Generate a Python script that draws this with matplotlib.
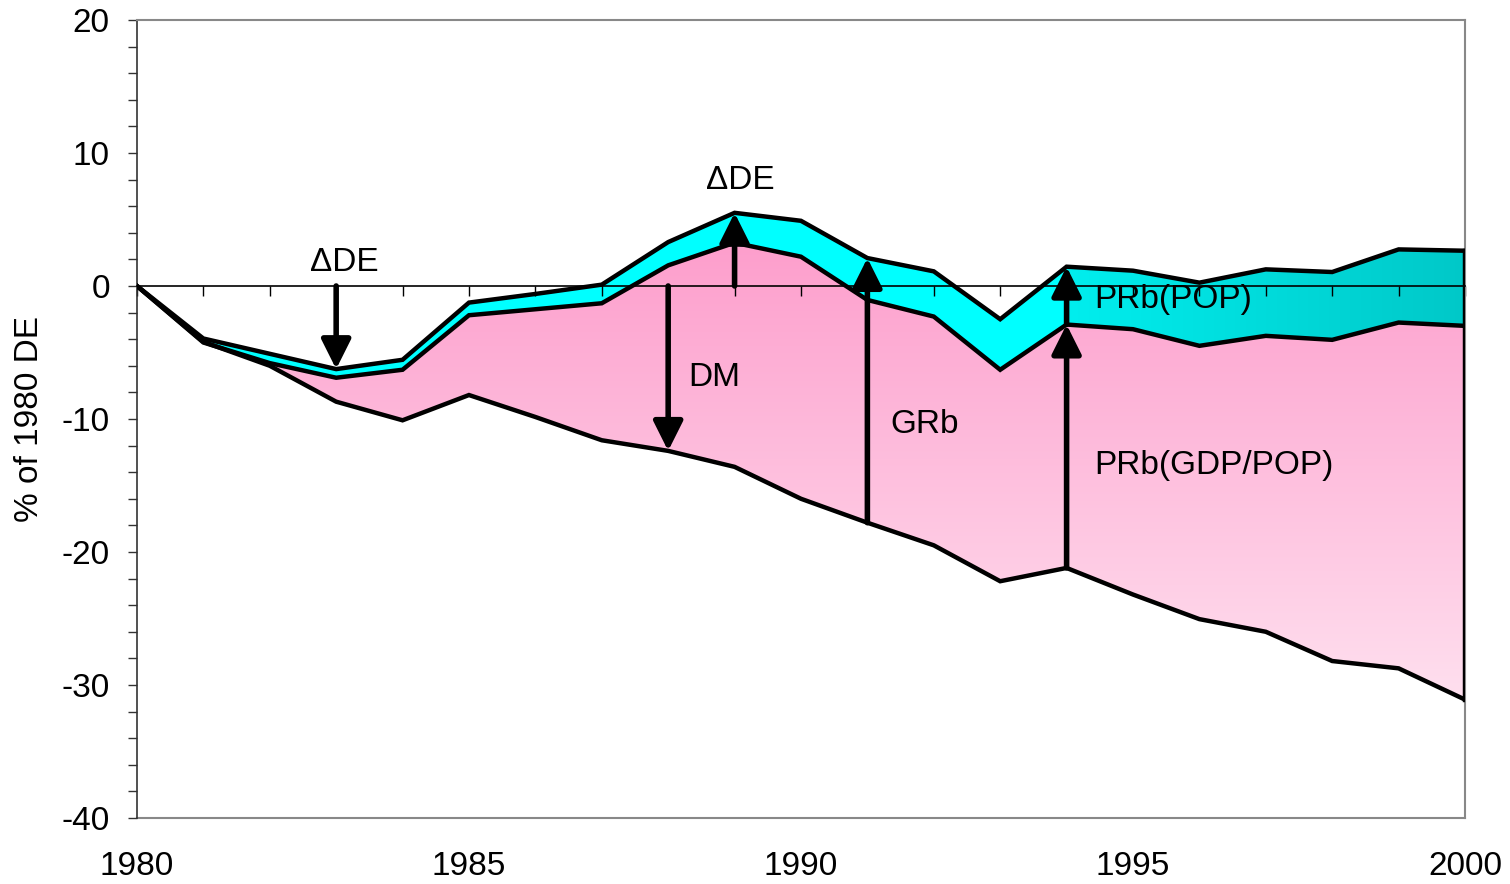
import numpy as np
import matplotlib
matplotlib.use('Agg')
import matplotlib.pyplot as plt
from matplotlib.patches import Polygon
from matplotlib.colors import LinearSegmentedColormap

plt.rcParams['font.family'] = ['Liberation Sans', 'DejaVu Sans']
plt.rcParams['axes.unicode_minus'] = False

# data (% of 1980 DE)
years = np.arange(1980, 2001)
de_line = [0, -3.95, -5.1, -6.25, -5.55, -1.25, -0.6, 0.1, 3.3, 5.5, 4.9,
           2.1, 1.1, -2.5, 1.45, 1.15, 0.25, 1.25, 1.05, 2.75, 2.65]
gdp_line = [0, -4.25, -5.8, -6.9, -6.3, -2.2, -1.75, -1.3, 1.55, 3.25, 2.2,
            -1.05, -2.3, -6.3, -2.9, -3.25, -4.5, -3.75, -4.05, -2.75, -3.0]
dm_line = [0, -4.2, -6.0, -8.7, -10.1, -8.2, -9.85, -11.6, -12.4, -13.6, -16.0,
           -17.8, -19.5, -22.2, -21.2, -23.2, -25.05, -26.0, -28.2, -28.75, -31.1]

de = np.array(de_line)
gdp = np.array(gdp_line)
dm = np.array(dm_line)

fig = plt.figure(figsize=(15.1, 8.84), dpi=100)
ax = fig.add_axes([0.0907, 0.0747, 0.8795, 0.9027])


def grad_fill(ax, x, y1, y2, c0, c1, extent, vertical=True):
    verts = np.concatenate([np.column_stack([x, y1]),
                            np.column_stack([x[::-1], y2[::-1]])])
    poly = Polygon(verts, closed=True, facecolor='none', edgecolor='none')
    ax.add_patch(poly)
    cmap = LinearSegmentedColormap.from_list('g', [c0, c1])
    g = np.linspace(0, 1, 256)
    g = g.reshape(-1, 1) if vertical else g.reshape(1, -1)
    im = ax.imshow(g, cmap=cmap, extent=extent, origin='lower',
                   aspect='auto', zorder=1, interpolation='bilinear')
    im.set_clip_path(poly)


# pink area between DM line and GDP line (vertical gradient)
grad_fill(ax, years, dm, gdp, '#ffe0ef', '#fd9aca', (1980, 2000, -31.5, 5.5))
# cyan area up to 1994
m = years <= 1994
ax.fill_between(years[m], gdp[m], de[m], color='#00ffff', lw=0, zorder=1)
# teal area 1994-2000 (horizontal gradient)
m2 = years >= 1994
grad_fill(ax, years[m2], gdp[m2], de[m2], '#00eeee', '#00c8c8',
          (1994, 2000, -6, 4), vertical=False)

for y in (de, gdp, dm):
    ax.plot(years, y, color='black', lw=3.2, zorder=3, solid_joinstyle='miter')
ax.plot([years[-1], years[-1]], [dm[-1], de[-1]], color='black', lw=3.2, zorder=3)


def arrow(x, y0, y1):
    ax.annotate('', xy=(x, y1), xytext=(x, y0),
                arrowprops=dict(arrowstyle='-|>,head_length=0.9,head_width=0.45',
                                lw=4, color='black', shrinkA=0, shrinkB=0,
                                mutation_scale=20), zorder=4)


i = lambda yr: yr - 1980
arrow(1983, 0, de[i(1983)])
arrow(1988, 0, dm[i(1988)])
arrow(1989, 0, de[i(1989)])
arrow(1991, dm[i(1991)], de[i(1991)])
arrow(1994, dm[i(1994)], gdp[i(1994)])
arrow(1994, gdp[i(1994)], de[i(1994)])

fs = 24
ax.text(1983.13, 1.8, '\u0394DE', fontsize=fs, ha='center', va='center', zorder=5)
ax.text(1989.08, 7.9, '\u0394DE', fontsize=fs, ha='center', va='center', zorder=5)
ax.text(1988.3, -6.85, 'DM', fontsize=fs, ha='left', va='center', zorder=5)
ax.text(1991.34, -10.45, 'GRb', fontsize=fs, ha='left', va='center', zorder=5)
ax.text(1994.41, -13.5, 'PRb(GDP/POP)', fontsize=fs, ha='left', va='center', zorder=5)
ax.text(1994.41, -1.05, 'PRb(POP)', fontsize=fs, ha='left', va='center', zorder=5)

ax.set_xlim(1980, 2000)
ax.set_ylim(-40, 20)

# x axis line at zero with yearly ticks
ax.spines['bottom'].set_position(('data', 0))
ax.spines['bottom'].set_color('black')
ax.spines['bottom'].set_linewidth(1.2)
ax.set_xticks(years)
ax.tick_params(axis='x', direction='out', length=7, width=1, color='black',
               labelbottom=False)

# year labels under the frame
sec = ax.secondary_xaxis('bottom')
sec.set_xticks(np.arange(1980, 2001, 5))
sec.tick_params(length=0, pad=24, labelsize=fs)
sec.spines['bottom'].set_color('#888888')
sec.spines['bottom'].set_linewidth(1.5)

ax.set_yticks(np.arange(-40, 21, 10))
ax.set_yticks(np.arange(-40, 21, 2), minor=True)
ax.tick_params(axis='y', which='both', direction='out', length=6.5, width=1,
               color='#333333', labelsize=fs, pad=13)
ax.spines['left'].set_color('#333333')
ax.spines['left'].set_linewidth(1.2)
for s in ('top', 'right'):
    ax.spines[s].set_color('#888888')
    ax.spines[s].set_linewidth(1.5)

ax.set_ylabel('% of 1980 DE', fontsize=fs)
ax.yaxis.set_label_coords(-0.069, 0.5)

fig.savefig('out.png', dpi=100)
